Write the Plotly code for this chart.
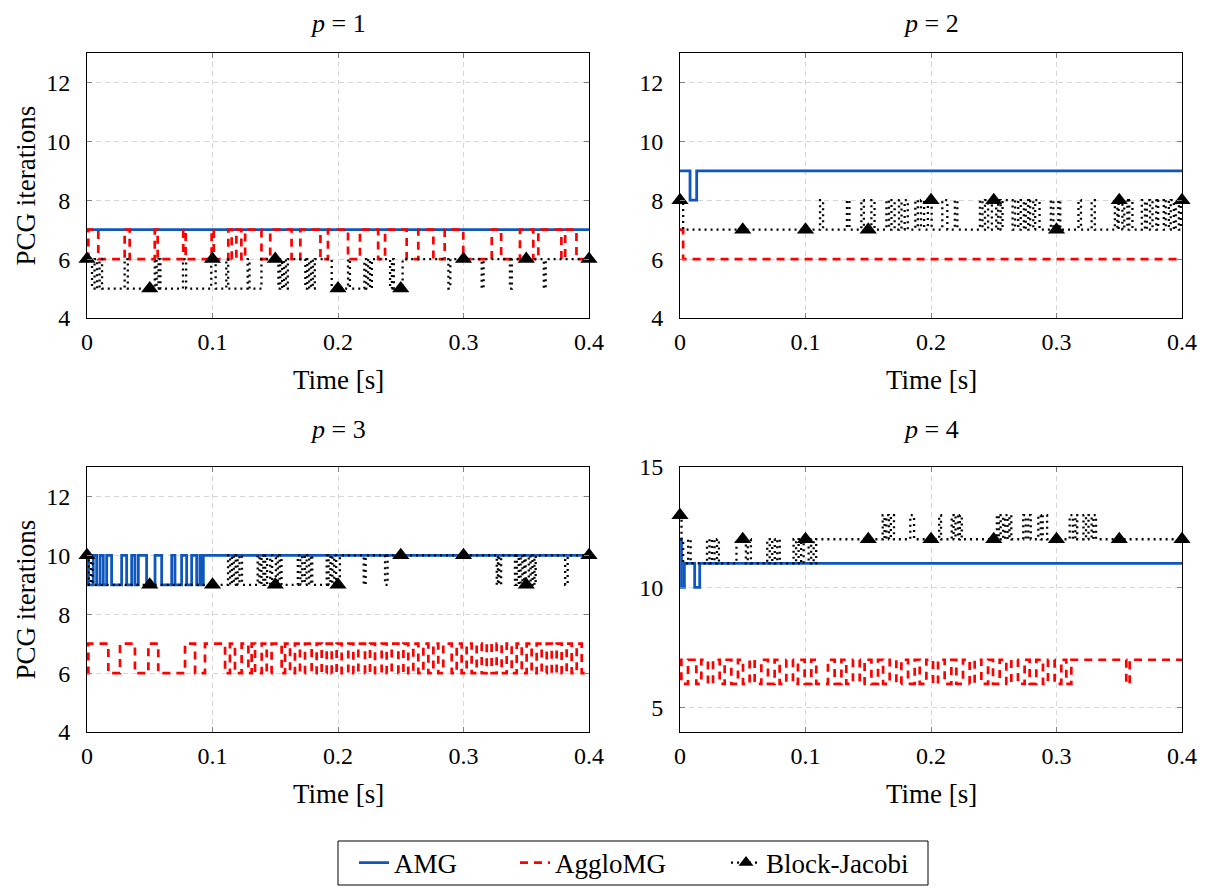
import numpy as np
import plotly.graph_objects as go

W, H = 1211, 890
OFF = 8  # page body margin of the html output
FONT = "Liberation Serif, Times New Roman, serif"
BLUE = "#0f56bd"
RED = "#ff0000"
BLACK = "#000000"

# ---------------- data ----------------
T_TICKS = [0, 0.1, 0.2, 0.3, 0.4]
T_TICK_TEXT = ["0", "0.1", "0.2", "0.3", "0.4"]
Y_TICKS_STD = [4, 6, 8, 10, 12]
Y_TICKS_P4 = [5, 10, 15]
MARK_T = [0, 0.05, 0.1, 0.15, 0.2, 0.25, 0.3, 0.35, 0.4]
SERIES_NAMES = ["AMG", "AggloMG", "Block-Jacobi"]
PANEL_TITLES = ["<i>p</i> = 1", "<i>p</i> = 2", "<i>p</i> = 3", "<i>p</i> = 4"]

# p = 1
AMG1_T = [0, 0.4]
AMG1_V = [7, 7]
AGG1_T = [0, 0.0011, 0.009, 0.030, 0.034, 0.054, 0.0563, 0.0767, 0.0786, 0.0993, 0.101,
          0.1126, 0.1153, 0.119, 0.123, 0.126, 0.139, 0.146, 0.163, 0.170, 0.186, 0.192,
          0.208, 0.2175, 0.232, 0.2375, 0.2547, 0.264, 0.276, 0.285, 0.2998, 0.3225, 0.330,
          0.345, 0.3556, 0.3596, 0.378, 0.381, 0.390, 0.4]
AGG1_V = [6, 7, 6, 7, 6, 7, 6, 7, 6, 7, 6,
          7, 6, 7, 6, 7, 6, 7, 6, 7, 6, 7,
          6, 7, 6, 7, 6, 7, 6, 7, 6, 7, 6,
          7, 6, 7, 6, 7, 6, 6]
BJ1_T = [0, 0.004, 0.006, 0.008, 0.010, 0.012, 0.030, 0.0325, 0.054, 0.0555, 0.057, 0.0585,
         0.0765, 0.079, 0.099, 0.1025, 0.111, 0.1125, 0.128, 0.1295, 0.139, 0.1525, 0.154,
         0.1555, 0.157, 0.1585, 0.160, 0.174, 0.1755, 0.177, 0.1785, 0.180, 0.1815, 0.195,
         0.208, 0.2095, 0.221, 0.2225, 0.224, 0.2255, 0.227, 0.2415, 0.243, 0.2445, 0.2515,
         0.288, 0.2895, 0.3145, 0.316, 0.337, 0.3385, 0.364, 0.3655, 0.4]
BJ1_V = [6, 5, 6, 5, 6, 5, 6, 5, 6, 5, 6, 5,
         6, 5, 6, 5, 6, 5, 6, 5, 6, 5, 6,
         5, 6, 5, 6, 5, 6, 5, 6, 5, 6, 5,
         6, 5, 6, 5, 6, 5, 6, 5, 6, 5, 6,
         5, 6, 5, 6, 5, 6, 5, 6, 6]

# p = 2
AMG2_T = [0, 0.008, 0.0133, 0.4]
AMG2_V = [9, 8, 9, 9]
AGG2_T = [0, 0.0025, 0.4]
AGG2_V = [7, 6, 6]
BJ2_T = [0, 0.0025, 0.1116, 0.114, 0.133, 0.135, 0.1445, 0.1465, 0.1525, 0.155, 0.1645,
         0.1665, 0.1685, 0.171, 0.1745, 0.1765, 0.179, 0.1815, 0.1875, 0.1895, 0.192,
         0.1945, 0.1975, 0.2005, 0.209, 0.213, 0.219, 0.221, 0.239, 0.241, 0.243, 0.2455,
         0.2485, 0.252, 0.2535, 0.2555, 0.257, 0.265, 0.267, 0.2695, 0.2715, 0.274, 0.2755,
         0.2775, 0.279, 0.2815, 0.283, 0.2865, 0.2955, 0.2975, 0.3015, 0.303, 0.3175, 0.3195,
         0.328, 0.3305, 0.3465, 0.3485, 0.3495, 0.3525, 0.354, 0.3565, 0.358, 0.3605, 0.368,
         0.3705, 0.372, 0.3745, 0.3765, 0.3795, 0.381, 0.3855, 0.387, 0.3895, 0.391, 0.3935,
         0.395, 0.3975, 0.399, 0.4]
BJ2_V = [8, 7, 8, 7, 8, 7, 8, 7, 8, 7, 8,
         7, 8, 7, 8, 7, 8, 7, 8, 7, 8,
         7, 8, 7, 8, 7, 8, 7, 8, 7, 8, 7,
         8, 7, 8, 7, 8, 7, 8, 7, 8, 7, 8,
         7, 8, 7, 8, 7, 8, 7, 8, 7, 8, 7,
         8, 7, 8, 7, 8, 7, 8, 7, 8, 7, 8,
         7, 8, 7, 8, 7, 8, 7, 8, 7, 8, 7,
         8, 7, 8, 8]

# p = 3
AMG3_T = [0, 0.0011, 0.005, 0.0077, 0.0104, 0.013, 0.0157, 0.0196, 0.0276, 0.0316, 0.0356,
          0.0382, 0.0409, 0.0475, 0.0542, 0.0595, 0.0675, 0.0701, 0.0754, 0.0794, 0.0834,
          0.0874, 0.090, 0.0915, 0.0927, 0.4]
AMG3_V = [10, 9, 10, 9, 10, 9, 10, 9, 10, 9, 10,
          9, 10, 9, 10, 9, 10, 9, 10, 9, 10,
          9, 10, 9, 10, 10]
AGG3_T = [0, 0.0011, 0.0170, 0.0263, 0.0382, 0.0489, 0.0568, 0.0781, 0.0861, 0.0940, 0.1100,
          0.1139, 0.1179, 0.1232, 0.1286, 0.1312, 0.1339, 0.1392, 0.1432, 0.1471, 0.1551,
          0.1578, 0.1618, 0.1657, 0.1697, 0.1737, 0.1790, 0.1830, 0.1870, 0.1910, 0.1950,
          0.1989, 0.2029, 0.2082, 0.2122, 0.2162, 0.2215, 0.2255, 0.2295, 0.2348, 0.2388,
          0.2428, 0.2481, 0.2521, 0.2560, 0.2600, 0.2640, 0.2680, 0.2720, 0.2760, 0.2799,
          0.2839, 0.2906, 0.2946, 0.2985, 0.3025, 0.3065, 0.3105, 0.3145, 0.3185, 0.3224,
          0.3264, 0.3304, 0.3344, 0.3384, 0.3424, 0.3464, 0.3503, 0.3543, 0.3583, 0.3623,
          0.3663, 0.3703, 0.3742, 0.3782, 0.3822, 0.3862, 0.3902, 0.3942, 0.4]
AGG3_V = [6, 7, 6, 7, 6, 7, 6, 7, 6, 7, 6,
          7, 6, 7, 6, 7, 6, 7, 6, 7, 6,
          7, 6, 7, 6, 7, 6, 7, 6, 7, 6,
          7, 6, 7, 6, 7, 6, 7, 6, 7, 6,
          7, 6, 7, 6, 7, 6, 7, 6, 7, 6,
          7, 6, 7, 6, 7, 6, 7, 6, 7, 6,
          7, 6, 7, 6, 7, 6, 7, 6, 7, 6,
          7, 6, 7, 6, 7, 6, 7, 6, 6]
BJ3_T = [0, 0.0015, 0.003, 0.0045, 0.1124, 0.114, 0.1155, 0.117, 0.1185, 0.120, 0.1215,
         0.1235, 0.136, 0.1375, 0.139, 0.1405, 0.142, 0.1435, 0.146, 0.1475, 0.1505, 0.152,
         0.1535, 0.155, 0.168, 0.170, 0.1715, 0.1735, 0.175, 0.177, 0.1785, 0.1795, 0.191,
         0.1925, 0.194, 0.1955, 0.197, 0.1985, 0.2015, 0.2205, 0.222, 0.2375, 0.2395, 0.3265,
         0.3275, 0.3285, 0.330, 0.341, 0.3425, 0.344, 0.3455, 0.347, 0.3485, 0.3495, 0.352,
         0.3535, 0.355, 0.3565, 0.3575, 0.381, 0.383, 0.4]
BJ3_V = [10, 9, 10, 9, 10, 9, 10, 9, 10, 9, 10,
         9, 10, 9, 10, 9, 10, 9, 10, 9, 10, 9,
         10, 9, 10, 9, 10, 9, 10, 9, 10, 9, 10,
         9, 10, 9, 10, 9, 10, 9, 10, 9, 10, 9,
         10, 9, 10, 9, 10, 9, 10, 9, 10, 9, 10,
         9, 10, 9, 10, 9, 10, 10]

# p = 4
AMG4_T = [0, 0.0012, 0.0035, 0.0117, 0.0157, 0.4]
AMG4_V = [12, 10, 11, 10, 11, 11]
AGG4_T = [0, 0.0011, 0.0064, 0.0130, 0.0170, 0.0223, 0.0263, 0.0316, 0.0356, 0.0409, 0.0462,
          0.0502, 0.0555, 0.0595, 0.0648, 0.0701, 0.0754, 0.0794, 0.0847, 0.0900, 0.0940,
          0.0993, 0.1046, 0.1086, 0.1179, 0.1232, 0.1286, 0.1325, 0.1378, 0.1432, 0.1471,
          0.1525, 0.1578, 0.1618, 0.1671, 0.1724, 0.1764, 0.1817, 0.1870, 0.1910, 0.1963,
          0.2016, 0.2056, 0.2109, 0.2162, 0.2202, 0.2255, 0.2308, 0.2348, 0.2401, 0.2455,
          0.2494, 0.2547, 0.2600, 0.2640, 0.2693, 0.2746, 0.2786, 0.2839, 0.2892, 0.2932,
          0.2985, 0.3038, 0.3078, 0.3118, 0.3556, 0.3583, 0.4]
AGG4_V = [7, 6, 7, 6, 7, 6, 7, 6, 7, 6, 7,
          6, 7, 6, 7, 6, 7, 6, 7, 6, 7,
          6, 7, 6, 7, 6, 7, 6, 7, 6, 7,
          6, 7, 6, 7, 6, 7, 6, 7, 6, 7,
          6, 7, 6, 7, 6, 7, 6, 7, 6, 7,
          6, 7, 6, 7, 6, 7, 6, 7, 6, 7,
          6, 7, 6, 7, 6, 7, 7]
BJ4_T = [0, 0.0012, 0.0025, 0.0065, 0.0085, 0.0215, 0.0235, 0.0255, 0.0275, 0.0295, 0.031,
         0.045, 0.0525, 0.054, 0.0565, 0.0695, 0.0715, 0.0735, 0.0755, 0.0775, 0.0795,
         0.0905, 0.0925, 0.0945, 0.0965, 0.0985, 0.1025, 0.1045, 0.1065, 0.1085,
         0.1615, 0.163, 0.1645, 0.1665, 0.168, 0.1705, 0.1835, 0.1865, 0.2065, 0.208,
         0.2165, 0.218, 0.2195, 0.2215, 0.223, 0.2245, 0.2525, 0.254, 0.2555, 0.2575,
         0.259, 0.261, 0.2625, 0.264, 0.2735, 0.2755, 0.2775, 0.2795, 0.2855, 0.2875,
         0.289, 0.2925, 0.3105, 0.313, 0.315, 0.3165, 0.3215, 0.3235, 0.3255, 0.328,
         0.3295, 0.3315, 0.4]
BJ4_V = [13, 12, 11, 12, 11, 12, 11, 12, 11, 12, 11,
         12, 11, 12, 11, 12, 11, 12, 11, 12, 11,
         12, 11, 12, 11, 12, 11, 12, 11, 12,
         13, 12, 13, 12, 13, 12, 13, 12, 13, 12,
         13, 12, 13, 12, 13, 12, 13, 12, 13, 12,
         13, 12, 13, 12, 13, 12, 13, 12, 13, 12,
         13, 12, 13, 12, 13, 12, 13, 12, 13, 12,
         13, 12, 12]

PANELS = [
    (AMG1_T, AMG1_V, AGG1_T, AGG1_V, BJ1_T, BJ1_V),
    (AMG2_T, AMG2_V, AGG2_T, AGG2_V, BJ2_T, BJ2_V),
    (AMG3_T, AMG3_V, AGG3_T, AGG3_V, BJ3_T, BJ3_V),
    (AMG4_T, AMG4_V, AGG4_T, AGG4_V, BJ4_T, BJ4_V),
]
Y_RANGES = [[4, 13], [4, 13], [4, 13], [4, 15]]
Y_TICKS = [Y_TICKS_STD, Y_TICKS_STD, Y_TICKS_STD, Y_TICKS_P4]

# ---------------- layout geometry (target pixels on the page) ----------------
X_PIX = [(87, 589), (680, 1182), (87, 589), (680, 1182)]
Y_PIX = [(53, 318), (53, 318), (467, 732), (467, 732)]


def px(x):
    return (x - OFF) / W


def py(y):
    return 1 - (y - OFF) / H


def sample_step(t, v, ts):
    t = np.asarray(t)
    v = np.asarray(v)
    idx = np.searchsorted(t, ts, side="right") - 1
    return v[np.clip(idx, 0, len(v) - 1)]


fig = go.Figure()

RED_DASH = "8px,6px"
DOT = "2px,4px"
LW_BLUE, LW_RED, LW_DOT = 2.8, 2.7, 2.3
MSIZE = 15

for i, (at, av, gt, gv, bt, bv) in enumerate(PANELS):
    xa = "x" if i == 0 else f"x{i+1}"
    ya = "y" if i == 0 else f"y{i+1}"
    fig.add_trace(go.Scatter(x=at, y=av, mode="lines", xaxis=xa, yaxis=ya,
                             line=dict(color=BLUE, width=LW_BLUE, shape="hv"),
                             showlegend=False, hoverinfo="skip"))
    fig.add_trace(go.Scatter(x=gt, y=gv, mode="lines", xaxis=xa, yaxis=ya,
                             line=dict(color=RED, width=LW_RED, shape="hv", dash=RED_DASH),
                             showlegend=False, hoverinfo="skip"))
    fig.add_trace(go.Scatter(x=bt, y=bv, mode="lines", xaxis=xa, yaxis=ya,
                             line=dict(color=BLACK, width=LW_DOT, shape="hv", dash=DOT),
                             showlegend=False, hoverinfo="skip"))
    fig.add_trace(go.Scatter(x=MARK_T, y=sample_step(bt, bv, MARK_T), mode="markers",
                             xaxis=xa, yaxis=ya, cliponaxis=False,
                             marker=dict(symbol="triangle-up", size=MSIZE, color=BLACK),
                             showlegend=False, hoverinfo="skip"))

# legend entries (one per legend so they can be spaced like the reference)
fig.add_trace(go.Scatter(x=[None], y=[None], mode="lines", name=SERIES_NAMES[0],
                         line=dict(color=BLUE, width=LW_BLUE), legend="legend"))
fig.add_trace(go.Scatter(x=[None], y=[None], mode="lines", name=SERIES_NAMES[1],
                         line=dict(color=RED, width=LW_RED, dash=RED_DASH), legend="legend2"))
fig.add_trace(go.Scatter(x=[None], y=[None], mode="lines+markers", name=SERIES_NAMES[2],
                         line=dict(color=BLACK, width=LW_DOT, dash=DOT),
                         marker=dict(symbol="triangle-up", size=13, color=BLACK),
                         legend="legend3"))

layout = dict(
    width=W, height=H, autosize=False, template="none",
    margin=dict(l=0, r=0, t=0, b=0),
    paper_bgcolor="white", plot_bgcolor="white",
    font=dict(family=FONT, size=24, color="black"),
)

for i in range(4):
    xk = "xaxis" if i == 0 else f"xaxis{i+1}"
    yk = "yaxis" if i == 0 else f"yaxis{i+1}"
    xa = "x" if i == 0 else f"x{i+1}"
    ya = "y" if i == 0 else f"y{i+1}"
    x0, x1 = X_PIX[i]
    y0, y1 = Y_PIX[i]
    common = dict(showline=True, linecolor="black", linewidth=1, mirror="ticks",
                  ticks="inside", ticklen=5, tickcolor="#808080", tickwidth=1,
                  showgrid=True, gridcolor="#d6d6d6", griddash="5px,4px", gridwidth=1,
                  zeroline=False, automargin=False,
                  tickfont=dict(family=FONT, size=24, color="black"))
    layout[xk] = dict(common, domain=[px(x0), px(x1)], anchor=ya, range=[0, 0.4],
                      tickvals=T_TICKS, ticktext=T_TICK_TEXT, ticklabelstandoff=2)
    layout[yk] = dict(common, domain=[py(y1), py(y0)], anchor=xa, range=Y_RANGES[i],
                      tickvals=Y_TICKS[i], ticktext=[str(v) for v in Y_TICKS[i]],
                      ticklabelstandoff=11)

annotations = []
for i in range(4):
    x0, x1 = X_PIX[i]
    y0, y1 = Y_PIX[i]
    cx = (x0 + x1) / 2
    title_y = 23 if i < 2 else y0 - 38
    annotations.append(dict(text=PANEL_TITLES[i], x=px(cx), y=py(title_y), xref="paper",
                            yref="paper", showarrow=False, xanchor="center", yanchor="middle",
                            font=dict(family=FONT, size=26)))
    annotations.append(dict(text="Time [s]", x=px(cx), y=py(y1 + 62), xref="paper",
                            yref="paper", showarrow=False, xanchor="center", yanchor="middle",
                            font=dict(family=FONT, size=27)))
    if i in (0, 2):
        annotations.append(dict(text="PCG iterations", x=px(25), y=py((y0 + y1) / 2),
                                xref="paper", yref="paper", showarrow=False, textangle=-90,
                                xanchor="center", yanchor="middle",
                                font=dict(family=FONT, size=27)))
layout["annotations"] = annotations

leg_common = dict(orientation="h", yanchor="middle", xanchor="left",
                  bgcolor="rgba(0,0,0,0)", borderwidth=0,
                  font=dict(family=FONT, size=27, color="black"))
layout["legend"] = dict(leg_common, x=px(354), y=py(863))
layout["legend2"] = dict(leg_common, x=px(515), y=py(863))
layout["legend3"] = dict(leg_common, x=px(726), y=py(863))

layout["shapes"] = [dict(type="rect", xref="paper", yref="paper",
                         x0=px(338), x1=px(928), y0=py(885), y1=py(841),
                         line=dict(color="black", width=1), fillcolor="rgba(0,0,0,0)")]

fig.update_layout(**layout)
fig.write_html("out.html")
